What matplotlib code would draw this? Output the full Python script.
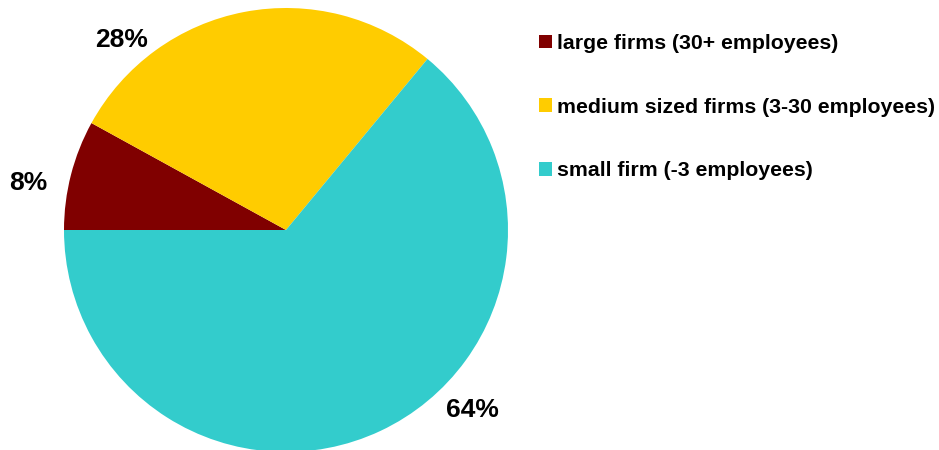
import matplotlib.pyplot as plt
import numpy as np

# firm size shares
categories = ["large firms (30+ employees)",
              "medium sized firms (3-30 employees)",
              "small firm (-3 employees)"]
shares = [8, 28, 64]
colors = ["#800000", "#FFCC00", "#33CCCC"]
pct_labels = ["8%", "28%", "64%"]

plt.rcParams['font.family'] = ['Liberation Sans', 'DejaVu Sans']
plt.rcParams['font.weight'] = 'bold'

fig = plt.figure(figsize=(9.39, 4.5), dpi=100)
ax = fig.add_axes([0, 0, 1, 1])

cx, cy, r = 286, 220, 222
wedges, _ = ax.pie(shares, colors=colors, startangle=180, counterclock=False,
                   center=(cx, cy), radius=r, frame=True,
                   wedgeprops=dict(linewidth=0))
ax.set_xlim(0, 939)
ax.set_ylim(0, 450)
ax.set_aspect('equal')
ax.axis('off')

# percent labels sit just outside the rim
label_pos = [(169.7, 262), (130.8, 251), (-44.0, 259)]
for txt, (ang, dist) in zip(pct_labels, label_pos):
    a = np.deg2rad(ang)
    ax.text(cx + dist * np.cos(a), cy + dist * np.sin(a), txt,
            ha='center', va='center', fontsize=19, fontweight='bold')

ax.legend(wedges, categories, loc='upper left', frameon=False,
          bbox_to_anchor=(539 / 939, 1 - 34 / 450), borderaxespad=0, borderpad=0,
          prop=dict(size=15.3, weight='bold'),
          handlelength=0.61, handleheight=0.61, handletextpad=0.25,
          labelspacing=2.1)

fig.savefig("out.png", dpi=100)
